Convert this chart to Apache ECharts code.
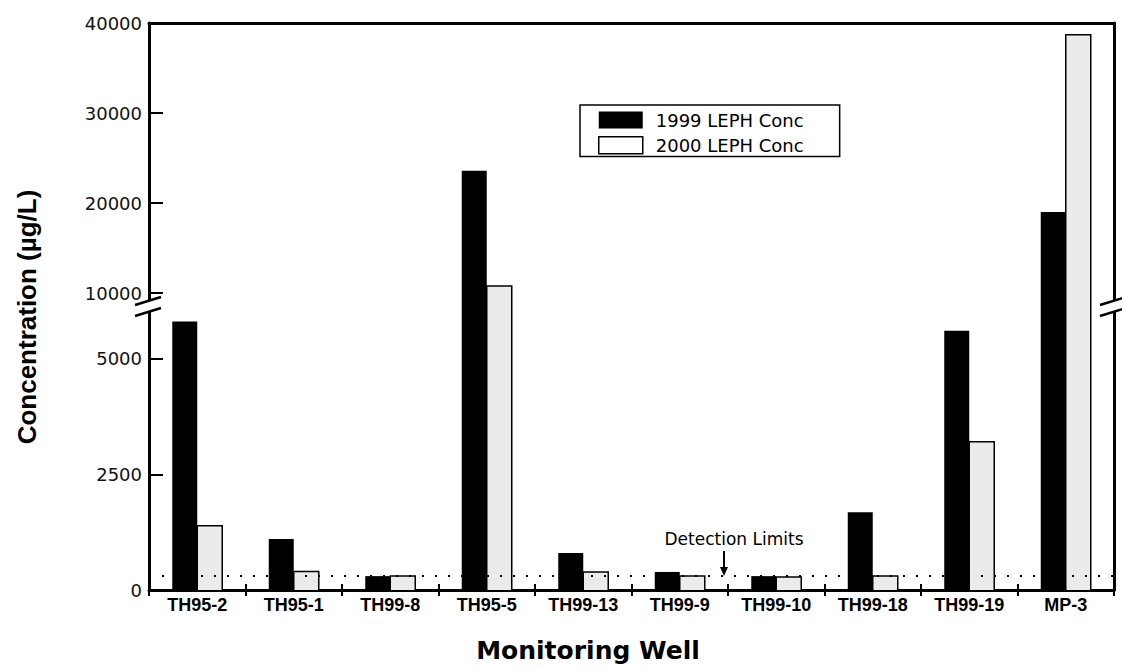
<!DOCTYPE html>
<html>
<head>
<meta charset="utf-8">
<title>LEPH Concentration by Monitoring Well</title>
<script src="https://cdn.jsdelivr.net/npm/echarts@6.0.0/dist/echarts.min.js"></script>
<style>
  html, body { margin: 0; padding: 0; background: #fff; }
  #chart { width: 1122px; height: 671px; }
</style>
</head>
<body>
<div id="chart"></div>
<script>
// Wells and LEPH concentrations (µg/L)
const wells = ['TH95-2', 'TH95-1', 'TH99-8', 'TH95-5', 'TH99-13', 'TH99-9', 'TH99-10', 'TH99-18', 'TH99-19', 'MP-3'];
const leph1999 = [5800, 1100, 300, 23600, 800, 390, 300, 1680, 5600, 19000];
const leph2000 = [1390, 400, 300, 10800, 390, 300, 280, 300, 3200, 38700];
const seriesNames = ['1999 LEPH Conc', '2000 LEPH Conc'];
const detectionLimit = 300;

// Broken value axis: a lower panel and an upper panel with their own scales
const lowerTicks = [0, 2500, 5000];
const upperTicks = [10000, 20000, 30000, 40000];
const lowerRange = [0, 6200];
const upperRange = [8900, 40000];

// Plot frame (pixels) and bar width
const L = 149, R = 1114, TOP = 23, SPLIT = 303, BOT = 590;
const BAR_W = 25;

const chart = echarts.init(document.getElementById('chart'), null, { renderer: 'svg' });

const frameLine = { show: true, onZero: false, lineStyle: { color: '#000', width: 3 } };
const numFont = { fontFamily: 'DejaVu Sans', fontSize: 18, color: '#111' };

function valueAxis(grid, range, pos, ticks) {
  const ax = {
    type: 'value', gridIndex: grid, position: pos, min: range[0], max: range[1],
    axisLine: frameLine, splitLine: { show: false }
  };
  if (ticks) {
    ax.axisTick = { show: true, inside: true, length: 14, customValues: ticks, lineStyle: { color: '#000', width: 2 } };
    ax.axisLabel = Object.assign({ show: true, margin: 7, customValues: ticks, formatter: v => String(v) }, numFont);
  } else {
    ax.axisTick = { show: false };
    ax.axisLabel = { show: false };
  }
  return ax;
}

// Bars are drawn as custom shapes so that a bar crossing the axis break stays
// open at the break (outline only on its left, top and right sides).
function barRenderer(side, fill, outlined) {
  return function (params, api) {
    const base = api.coord([api.value(0), 0]);
    const top = api.coord([api.value(0), api.value(1)]);
    const x = base[0] + (side < 0 ? -BAR_W : 0);
    const children = [{
      type: 'rect',
      shape: { x: x, y: top[1], width: BAR_W, height: base[1] - top[1] },
      style: { fill: fill }
    }];
    if (outlined) {
      children.push({
        type: 'polyline',
        shape: { points: [[x, base[1]], [x, top[1]], [x + BAR_W, top[1]], [x + BAR_W, base[1]]] },
        style: { stroke: '#000', lineWidth: 1.5, fill: 'none' }
      });
    }
    return { type: 'group', children: children };
  };
}

function barSeries(xi, yi) {
  const common = { type: 'custom', xAxisIndex: xi, yAxisIndex: yi, clip: true, animation: false,
                   encode: { x: 0, y: 1 } };
  return [
    Object.assign({ name: seriesNames[0], data: leph1999.map((v, i) => [i, v]),
                    itemStyle: { color: '#000' }, renderItem: barRenderer(-1, '#000', false) }, common),
    Object.assign({ name: seriesNames[1], data: leph2000.map((v, i) => [i, v]),
                    itemStyle: { color: '#ebebeb' }, renderItem: barRenderer(1, '#ebebeb', true) }, common)
  ];
}

const limitSeries = {
  name: 'Detection Limits', type: 'line', xAxisIndex: 1, yAxisIndex: 2, data: [], z: 5,
  markLine: {
    silent: true, symbol: ['none', 'none'], animation: false,
    label: { show: false },
    lineStyle: { color: '#000', width: 2, type: [2, 11] },
    data: [{ yAxis: detectionLimit }]
  }
};

chart.setOption({
  animation: false,
  backgroundColor: '#fff',
  grid: [
    { left: L, top: TOP, width: R - L, height: SPLIT - TOP },
    { left: L, top: SPLIT, width: R - L, height: BOT - SPLIT }
  ],
  xAxis: [
    { type: 'category', gridIndex: 0, data: wells, position: 'top',
      axisLine: frameLine, axisTick: { show: false }, axisLabel: { show: false } },
    { type: 'category', gridIndex: 1, data: wells, position: 'bottom',
      axisLine: frameLine,
      axisTick: { show: true, length: 6, lineStyle: { color: '#000', width: 2 } },
      axisLabel: { show: true, interval: 0, margin: 6, fontFamily: 'Liberation Sans', fontWeight: 'bold', fontSize: 18, color: '#000' } },
    { type: 'category', gridIndex: 1, data: wells, position: 'bottom',
      axisLine: { show: false },
      axisTick: { show: true, inside: true, length: 6, lineStyle: { color: '#000', width: 2 } },
      axisLabel: { show: false } }
  ],
  yAxis: [
    valueAxis(0, upperRange, 'left', upperTicks),
    valueAxis(0, upperRange, 'right', null),
    valueAxis(1, lowerRange, 'left', lowerTicks),
    valueAxis(1, lowerRange, 'right', null)
  ],
  legend: {
    data: [
      { name: seriesNames[0], itemStyle: { color: '#000', borderWidth: 0 } },
      { name: seriesNames[1], itemStyle: { color: '#fff', borderColor: '#000', borderWidth: 1.5 } }
    ],
    orient: 'vertical', left: 580, top: 105,
    itemWidth: 44, itemHeight: 17, itemGap: 7, icon: 'rect',
    selectedMode: false,
    borderColor: '#000', borderWidth: 1.5, padding: [6, 36, 2, 18],
    textStyle: { fontFamily: 'DejaVu Sans', fontSize: 18, color: '#000', padding: [0, 0, 0, 8] }
  },
  series: [].concat(barSeries(1, 2), barSeries(0, 0), [limitSeries])
});

// Axis titles, axis-break marks and the detection-limit callout
function breakMark(x) {
  const a = [[x - 14, SPLIT + 2], [x + 12, SPLIT - 6]];
  const b = [[x - 14, SPLIT + 13], [x + 12, SPLIT + 5]];
  return [
    { type: 'polygon', z: 100, shape: { points: [a[0], a[1], b[1], b[0]] }, style: { fill: '#fff' } },
    { type: 'polyline', z: 101, shape: { points: a }, style: { stroke: '#000', lineWidth: 2.5 } },
    { type: 'polyline', z: 101, shape: { points: b }, style: { stroke: '#000', lineWidth: 2.5 } }
  ];
}

const bandW = (R - L) / wells.length;
const arrowX = L + bandW * 6 - 4;
const limitY = chart.convertToPixel({ yAxisIndex: 2 }, detectionLimit);

chart.setOption({
  graphic: [].concat(
    breakMark(L),
    breakMark(R),
    [
      { type: 'text', z: 100, x: 27, y: 317, rotation: Math.PI / 2,
        style: { text: 'Concentration (µg/L)', fontFamily: 'Liberation Sans', fontWeight: 'bold', fontSize: 26,
                 fill: '#000', align: 'center', verticalAlign: 'middle', textAlign: 'center', textVerticalAlign: 'middle' } },
      { type: 'text', z: 100, x: 588, y: 650,
        style: { text: 'Monitoring Well', fontFamily: 'DejaVu Sans', fontWeight: 'bold', fontSize: 25,
                 fill: '#000', align: 'center', verticalAlign: 'middle', textAlign: 'center', textVerticalAlign: 'middle' } },
      { type: 'text', z: 100, x: arrowX + 10, y: 539,
        style: { text: 'Detection Limits', fontFamily: 'DejaVu Sans', fontSize: 17,
                 fill: '#000', align: 'center', verticalAlign: 'middle', textAlign: 'center', textVerticalAlign: 'middle' } },
      { type: 'line', z: 100, shape: { x1: arrowX, y1: 551, x2: arrowX, y2: limitY - 7 },
        style: { stroke: '#000', lineWidth: 2 } },
      { type: 'polygon', z: 100, shape: { points: [[arrowX - 4, limitY - 9], [arrowX + 4, limitY - 9], [arrowX, limitY]] },
        style: { fill: '#000' } }
    ]
  )
});
</script>
</body>
</html>
